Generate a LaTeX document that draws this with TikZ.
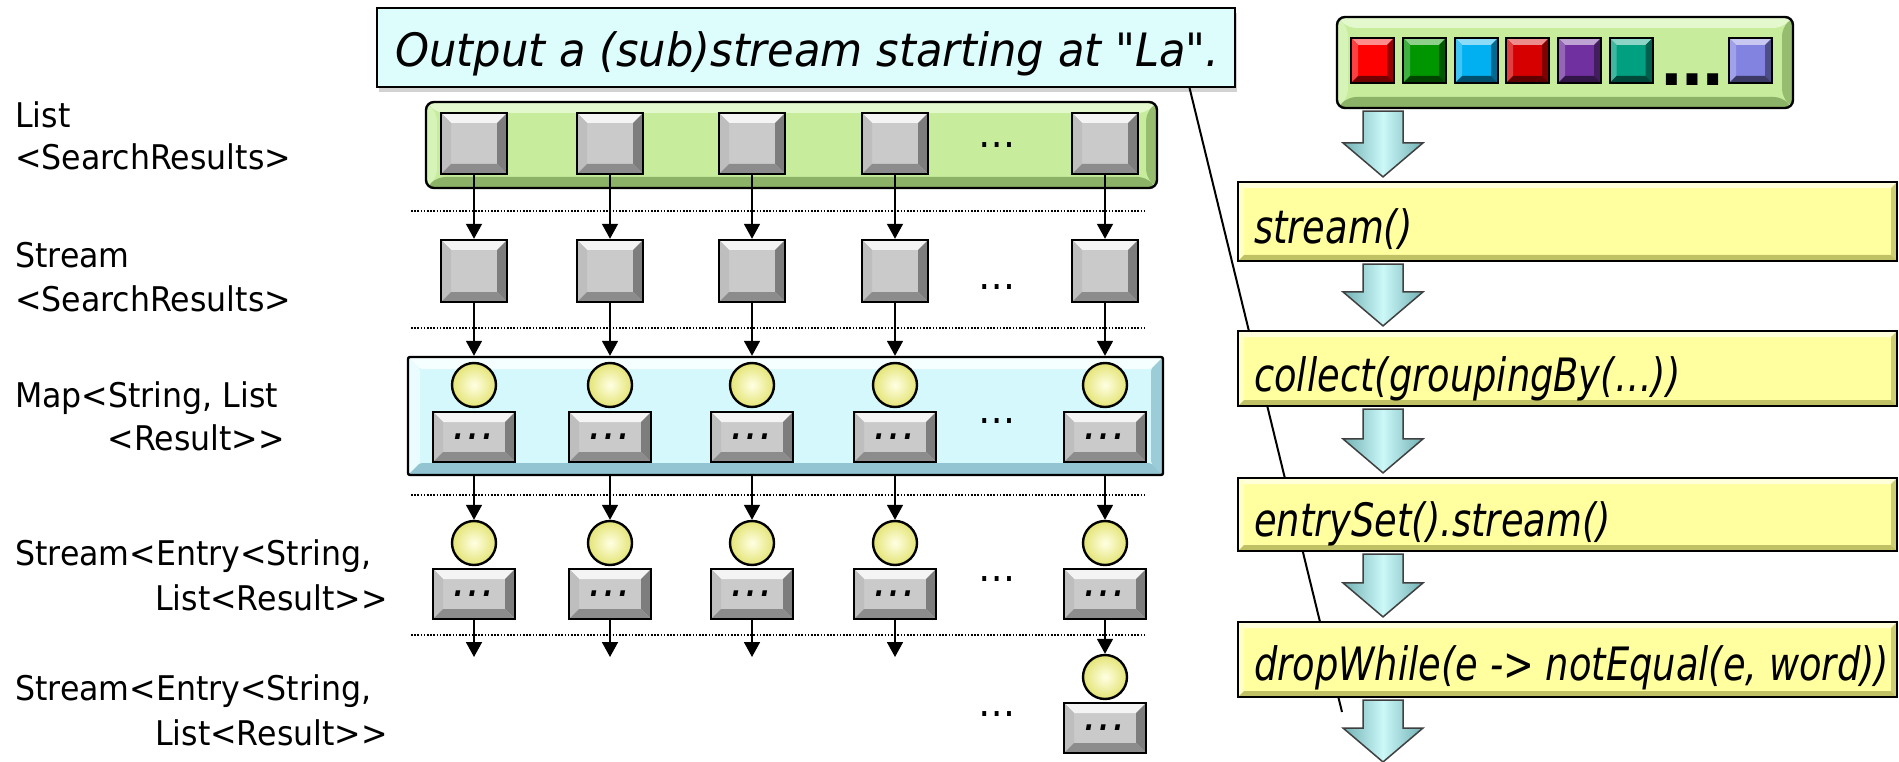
\documentclass[tikz,border=0pt]{standalone}
\usepackage{fontspec}
\usetikzlibrary{arrows.meta,calc,shadows}
\newfontfamily\tah{DejaVu Sans}[FakeStretch=0.93]
\newfontfamily\tahit{DejaVu Sans Oblique}[FakeStretch=0.94]
\newfontfamily\tahcond{DejaVu Sans Oblique}[FakeStretch=0.80]
\newfontfamily\tahbold{DejaVu Sans Bold}
\definecolor{sqface}{RGB}{202,202,202}
\definecolor{sqtop}{RGB}{244,244,244}
\definecolor{sqleft}{RGB}{190,190,190}
\definecolor{sqright}{RGB}{125,125,125}
\definecolor{sqbot}{RGB}{140,140,140}
\definecolor{gface}{RGB}{198,236,156}
\definecolor{gtop}{RGB}{228,248,206}
\definecolor{gleft}{RGB}{214,243,184}
\definecolor{gright}{RGB}{150,188,112}
\definecolor{gbot}{RGB}{140,178,104}
\definecolor{bface}{RGB}{212,248,252}
\definecolor{btop}{RGB}{246,255,255}
\definecolor{bleft}{RGB}{234,252,255}
\definecolor{bright}{RGB}{156,204,216}
\definecolor{bbot}{RGB}{146,196,210}
\definecolor{yface}{RGB}{255,255,160}
\definecolor{ytop}{RGB}{255,255,218}
\definecolor{yleft}{RGB}{255,255,200}
\definecolor{yright}{RGB}{205,205,115}
\definecolor{ybot}{RGB}{192,192,100}
\definecolor{callfill}{RGB}{221,253,253}
\definecolor{arrface}{RGB}{204,248,248}
\definecolor{arredge}{RGB}{112,176,180}
\definecolor{circin}{RGB}{255,255,228}
\definecolor{circout}{RGB}{228,228,118}
\definecolor{cred}{RGB}{255,0,0}
\definecolor{cgreen}{RGB}{0,150,0}
\definecolor{ccyan}{RGB}{0,176,240}
\definecolor{cred2}{RGB}{215,0,0}
\definecolor{cpurple}{RGB}{112,48,160}
\definecolor{cteal}{RGB}{0,160,128}
\definecolor{clav}{RGB}{130,130,225}
% bevel drawn inside a node: #1 bevel size, #2 top, #3 left, #4 right, #5 bottom colour
\newcommand\mybevel[5]{%
  \path (path picture bounding box.north west) coordinate (pA)
        (path picture bounding box.north east) coordinate (pB)
        (path picture bounding box.south east) coordinate (pC)
        (path picture bounding box.south west) coordinate (pD);
  \fill[#2] (pA) -- (pB) -- ([shift={(-#1,-#1)}]pB) -- ([shift={(#1,-#1)}]pA) -- cycle;
  \fill[#3] (pA) -- ([shift={(#1,-#1)}]pA) -- ([shift={(#1,#1)}]pD) -- (pD) -- cycle;
  \fill[#4] (pB) -- (pC) -- ([shift={(-#1,#1)}]pC) -- ([shift={(-#1,-#1)}]pB) -- cycle;
  \fill[#5] (pD) -- (pC) -- ([shift={(-#1,#1)}]pC) -- ([shift={(#1,#1)}]pD) -- cycle;
}
\newcommand\blkarrow[2]{%
  \path[blk] let \p1=(#1), \p2=(#2) in
    (\x1-20pt,\y1-2pt) -- (\x1+20pt,\y1-2pt) -- (\x1+20pt,\y2+38pt) -- (\x1+40pt,\y2+38pt)
    -- (\x1,\y2+4pt) -- (\x1-40pt,\y2+38pt) -- (\x1-20pt,\y2+38pt) -- cycle;
}
\tikzset{
  graysq/.style={rectangle, inner sep=0pt, minimum width=66pt, minimum height=61pt,
    draw=black, line width=2.4pt, fill=sqface,
    path picture={\mybevel{10pt}{sqtop}{sqleft}{sqright}{sqbot}}},
  dotbox/.style={graysq, minimum width=82pt, minimum height=50pt,
    font=\tahit\fontsize{46}{46}\selectfont},
  ycirc/.style={circle, inner sep=0pt, minimum size=44pt, draw=black, line width=2.4pt,
    inner color=circin, outer color=circout},
  csq/.style={rectangle, inner sep=0pt, minimum width=43pt, minimum height=45pt,
    draw=black, line width=2pt, fill=#1,
    path picture={\mybevel{7pt}{#1!45!white}{#1!75!white}{#1!60!black}{#1!45!black}}},
  gbox/.style={rectangle, rounded corners=8pt, draw=black, line width=2.4pt, fill=gface,
    inner sep=0pt, path picture={\mybevel{11pt}{gtop}{gleft}{gright}{gbot}}},
  bbox/.style={rectangle, rounded corners=2pt, draw=black, line width=2.4pt, fill=bface,
    inner sep=0pt, path picture={\mybevel{12pt}{btop}{bleft}{bright}{bbot}}},
  ybox/.style={rectangle, draw=black, line width=2.2pt, fill=yface, minimum width=659pt,
    inner sep=0pt, path picture={\mybevel{6pt}{ytop}{yleft}{yright}{ybot}}},
  callbox/.style={rectangle, draw=black, line width=2pt, fill=callfill,
    minimum width=858pt, minimum height=79pt, inner sep=0pt,
    drop shadow={shadow xshift=2pt, shadow yshift=-5pt, opacity=0.35}},
  blk/.style={draw=black!75, line width=1.5pt, left color=arredge, right color=arredge,
    middle color=arrface},
  conn/.style={line width=1.7pt, -{Triangle[width=16pt,length=15pt]}},
  sepline/.style={line width=1.6pt, dash pattern=on 1.6pt off 1.6pt},
  lab/.style={font=\tah\fontsize{34}{42}\selectfont, inner sep=0pt},
  ytext/.style={font=\tahcond\fontsize{46}{46}\selectfont, inner sep=0pt, anchor=base west},
  rowdots/.style={font=\tah\fontsize{40}{40}\selectfont, inner sep=0pt, anchor=base},
}
\begin{document}
\begin{tikzpicture}[x=1pt,y=-1pt]
\useasboundingbox (0,0) rectangle (1899,762);
\fill[white] (0,0) rectangle (1899,762);

% callout and its pointer (behind the yellow boxes)
\node[callbox] (callout) at (806,47.5) {};
\node[font=\tahit\fontsize{46}{46}\selectfont, inner sep=0pt, anchor=base west] (calltext)
  at (395,67) {Output a (sub)stream starting at "La".};
\coordinate (ptip) at (1342,712);
\draw[line width=2pt] ($(callout.south west)!0.946!(callout.south east)$) -- (ptip);

% right column
\node[gbox, minimum width=456pt, minimum height=91pt] (gboxR) at (1565,62.5) {};
\node[csq=cred]    (q1) at (1372.5,60.5) {};
\node[csq=cgreen]  (q2) at (1424.5,60.5) {};
\node[csq=ccyan]   (q3) at (1476.5,60.5) {};
\node[csq=cred2]   (q4) at (1527.5,60.5) {};
\node[csq=cpurple] (q5) at (1579.5,60.5) {};
\node[csq=cteal]   (q6) at (1631,60.5) {};
\node[csq=clav]    (q7) at (1750.5,60.5) {};
\node[font=\tahbold\fontsize{62}{62}\selectfont, inner sep=0pt, anchor=base] (bigdots)
  at (1692,86) {…};

\node[ybox, minimum height=79pt] (yb1) at (1567.5,221.5) {};
\node[ybox, minimum height=75pt] (yb2) at (1567.5,368.5) {};
\node[ybox, minimum height=73pt] (yb3) at (1567.5,514.5) {};
\node[ybox, minimum height=75pt] (yb4) at (1567.5,659.5) {};
\node[ytext] (t1) at (1254,244) {stream()};
\node[ytext] (t2) at (1254,391) {collect(groupingBy(…))};
\node[ytext] (t3) at (1254,536) {entrySet().stream()};
\node[ytext] (t4) at (1254,680) {dropWhile(e -> notEqual(e, word))};

\coordinate (ax) at (1383,0);
\coordinate (aend) at (1383,766);
\blkarrow{gboxR.south -| ax}{yb1.north -| ax}
\blkarrow{yb1.south -| ax}{yb2.north -| ax}
\blkarrow{yb2.south -| ax}{yb3.north -| ax}
\blkarrow{yb3.south -| ax}{yb4.north -| ax}
\blkarrow{yb4.south -| ax}{aend}

% left labels
\node[lab, anchor=base west] (l1a) at (15,128) {List};
\node[lab, anchor=base west] (l1b) at (15,170) {<SearchResults>};
\node[lab, anchor=base west] (l2a) at (15,268) {Stream};
\node[lab, anchor=base west] (l2b) at (15,312) {<SearchResults>};
\node[lab, anchor=base west] (l3a) at (15,407) {Map<String, List};
\node[lab, anchor=base east] (l3b) at (285,450) {<Result>>};
\node[lab, anchor=base west] (l4a) at (15,565) {Stream<Entry<String,};
\node[lab, anchor=base west] (l4b) at (155,610) {List<Result>>};
\node[lab, anchor=base west] (l5a) at (15,700) {Stream<Entry<String,};
\node[lab, anchor=base west] (l5b) at (155,745) {List<Result>>};

% containers
\node[gbox, minimum width=731pt, minimum height=86pt] (glist) at (791.5,145) {};
\node[bbox, minimum width=755pt, minimum height=118pt] (bmap) at (785.5,416) {};

% separators
\draw[sepline] (411,211) -- (1146,211);
\draw[sepline] (411,328) -- (1146,328);
\draw[sepline] (411,495) -- (1146,495);
\draw[sepline] (411,635) -- (1146,635);

% elements
\foreach \i/\x in {1/474,2/610,3/752,4/895,5/1105} {
  \node[graysq] (r1c\i) at (\x,143.5) {};
  \node[graysq, minimum height=62pt] (r2c\i) at (\x,271) {};
  \node[ycirc] (r3o\i) at (\x,385) {};
  \node[dotbox] (r3b\i) at (\x,437) {…};
  \node[ycirc] (r4o\i) at (\x,543) {};
  \node[dotbox] (r4b\i) at (\x,594) {…};
  \draw[conn] (r1c\i) -- (r2c\i);
  \draw[conn] (r2c\i) -- (r2c\i |- bmap.north);
  \draw[conn] (bmap.south -| r4o\i) -- (r4o\i);
}
\node[ycirc] (r5o) at (1105,677) {};
\node[dotbox] (r5b) at (1105,728) {…};
\foreach \i/\x in {1/474,2/610,3/752,4/895} {
  \coordinate (e\i) at (\x,657);
  \draw[conn] (r4b\i) -- (e\i);
}
\draw[conn] (r4b5) -- (r5o);

% row ellipses
\node[rowdots] (d1) at (997,148) {…};
\node[rowdots] (d2) at (997,290) {…};
\node[rowdots] (d3) at (997,423) {…};
\node[rowdots] (d4) at (997,581) {…};
\node[rowdots] (d5) at (997,716) {…};
\end{tikzpicture}
\end{document}
